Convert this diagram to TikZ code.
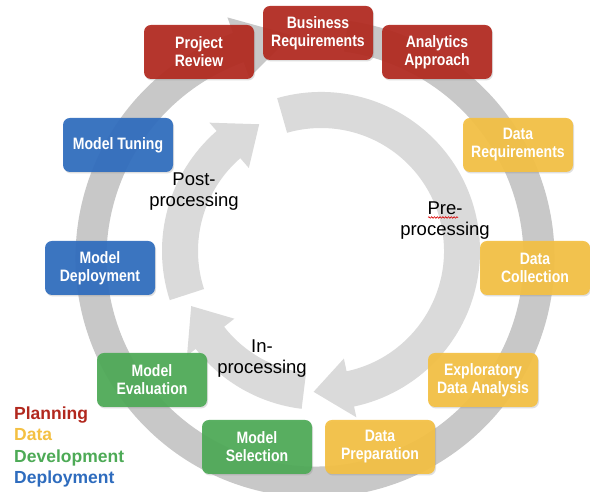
\documentclass[tikz,border=0pt]{standalone}
\usepackage{fontspec}
\setmainfont{Liberation Sans}
\newfontfamily\stagefont{Liberation Sans}[FakeStretch=0.85]
\usetikzlibrary{shadows,decorations.pathmorphing}

\definecolor{planred}{RGB}{178,40,30}
\definecolor{datayel}{RGB}{244,192,66}
\definecolor{devgreen}{RGB}{77,170,86}
\definecolor{depblue}{RGB}{46,108,190}
\definecolor{ringgray}{RGB}{200,200,200}
\definecolor{arrowgray}{RGB}{218,218,218}

\tikzset{
  stage/.style={rounded corners=7pt, minimum width=110pt, minimum height=54pt,
    inner sep=0pt, align=center, text=white,
    font=\stagefont\bfseries\fontsize{16.5}{18}\selectfont,
    fill opacity=0.92, text opacity=1,
    drop shadow={shadow xshift=1pt, shadow yshift=-1.5pt, opacity=0.25}},
  phase/.style={align=center, inner sep=0pt, font=\fontsize{18.5}{21}\selectfont},
  keytext/.style={anchor=base west, inner sep=0pt, font=\bfseries\fontsize{17.5}{20}\selectfont}
}

\begin{document}
\begin{tikzpicture}[x=1pt, y=1pt]
\useasboundingbox (0,0) rectangle (590,492);
\fill[white] (0,0) rectangle (590,492);

% outer ring
\begin{scope}[shift={(315,234)}]
\fill[ringgray] (82:239.5) arc[start angle=82, end angle=-250, radius=239.5]
  -- (-250:256) -- (-264:224) -- (-250:192) -- (-250:208.5)
  arc[start angle=-250, end angle=82, radius=208.5] -- cycle;
\end{scope}

% inner arrows: start angle / tip angle
\begin{scope}[shift={(321,241)}]
\foreach \s/\e in {106/-93, 263/203, 198/116}
  \fill[arrowgray] (\s:159) arc[start angle=\s, end angle=\e+15, radius=159]
    -- (\e+15:170) -- (\e:141) -- (\e+15:110) -- (\e+15:123)
    arc[start angle=\e+15, end angle=\s, radius=123] -- cycle;
\end{scope}

\node[stage, fill=planred] (busreq) at (318,459) {Business\\Requirements};
\node[stage, fill=planred] (analytics) at (437,440) {Analytics\\Approach};
\node[stage, fill=planred] (review) at (199,440) {Project\\Review};
\node[stage, fill=datayel] (datareq) at (518,347) {Data\\Requirements};
\node[stage, fill=datayel] (collect) at (535,224) {Data\\Collection};
\node[stage, fill=datayel] (eda) at (483,112) {Exploratory\\Data Analysis};
\node[stage, fill=datayel] (prep) at (380,45) {Data\\Preparation};
\node[stage, fill=devgreen] (select) at (257,45) {Model\\Selection};
\node[stage, fill=devgreen] (evaluate) at (152,112) {Model\\Evaluation};
\node[stage, fill=depblue] (deploy) at (100,224) {Model\\Deployment};
\node[stage, fill=depblue] (tuning) at (118,347) {Model Tuning};

\node[phase] (pre) at (445,271) {Pre-\\processing};
\node[phase] (inproc) at (262,133) {In-\\processing};
\node[phase] (post) at (194,300) {Post-\\processing};
\draw[red!85!black, line width=0.6pt, decorate,
  decoration={snake, amplitude=0.8pt, segment length=2.8pt}] (428,274.5) -- (458,274.5);

% legend
\node[keytext, text=planred] (kplan) at (14,72.7) {Planning};
\node[keytext, text=datayel] (kdata) at (14,51) {Data};
\node[keytext, text=devgreen] (kdev) at (14,29.3) {Development};
\node[keytext, text=depblue] (kdep) at (14,8) {Deployment};
\end{tikzpicture}
\end{document}
